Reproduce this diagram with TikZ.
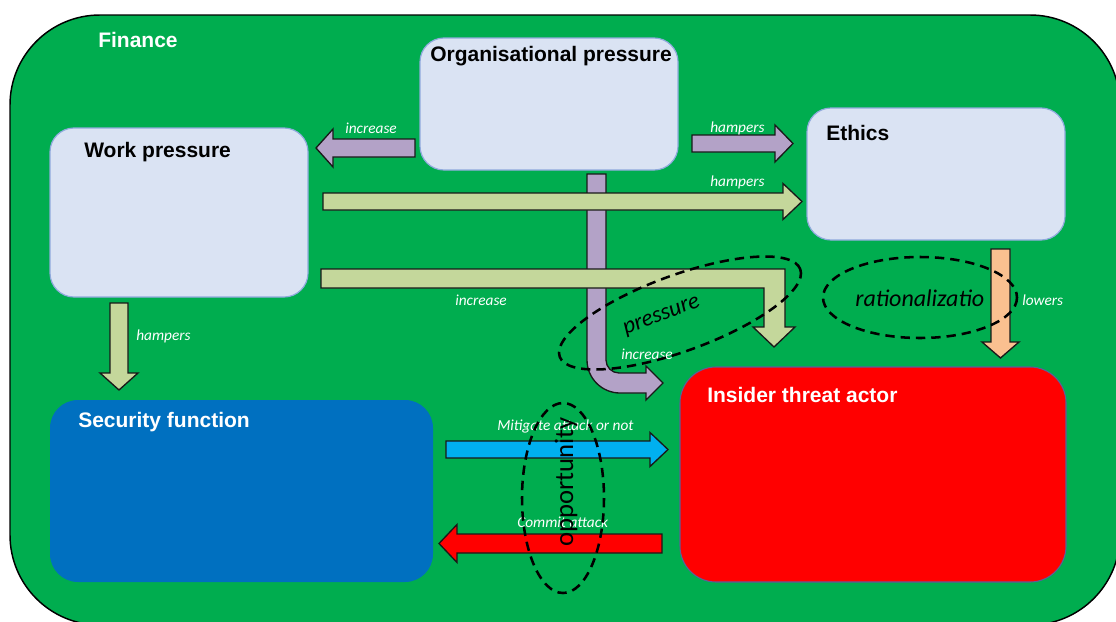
\documentclass[tikz,border=0pt]{standalone}
\usepackage{fontspec}
\setmainfont{Liberation Sans}
\newfontfamily\calfont{Carlito}
\definecolor{finGreen}{HTML}{00AD4F}
\definecolor{boxFill}{HTML}{DAE3F3}
\definecolor{boxLine}{HTML}{8FAADC}
\definecolor{purp}{HTML}{B3A2C7}
\definecolor{olive}{HTML}{C4D79B}
\definecolor{orng}{HTML}{FAC090}
\definecolor{skyb}{HTML}{00B0F0}
\definecolor{secBlue}{HTML}{0070C0}
\definecolor{insRed}{HTML}{FF0000}
\definecolor{insLine}{HTML}{5B5F9A}
% horizontal block arrow: tail x, head base x, tip x, centre y, shaft half, head half, style
\newcommand\HArr[7]{\draw[#7] (#1,{#4-#5}) -- (#2,{#4-#5}) -- (#2,{#4-#6}) -- (#3,#4) -- (#2,{#4+#6}) -- (#2,{#4+#5}) -- (#1,{#4+#5}) -- cycle;}
% vertical block arrow: tail y, head base y, tip y, centre x, shaft half, head half, style
\newcommand\VArr[7]{\draw[#7] ({#4-#5},#1) -- ({#4-#5},#2) -- ({#4-#6},#2) -- (#4,#3) -- ({#4+#6},#2) -- ({#4+#5},#2) -- ({#4+#5},#1) -- cycle;}
\begin{document}
\begin{tikzpicture}[x=0.75pt,y=-0.75pt,
  lbox/.style={draw=boxLine, fill=boxFill, line width=0.9pt, rounded corners=18pt, inner sep=0},
  ttl/.style={font=\bfseries\fontsize{15.75}{18}\selectfont, inner sep=0, anchor=base west},
  lab/.style={font=\calfont\itshape\fontsize{11.5}{13}\selectfont, text=white, inner sep=0, anchor=base west},
  blk/.style={draw=black!90, line width=1pt, line join=miter},
  ell/.style={draw=black, line width=1.9pt, dash pattern=on 7pt off 4.5pt},
  etxt/.style={font=\calfont, inner sep=0, text=black}]
\useasboundingbox (0,0) rectangle (1116,621);
% outer Finance region
\node[name=fin, draw=black, fill=finGreen, line width=1.1pt, rounded corners=67.5pt,
      minimum width=832.5pt, minimum height=457.5pt, inner sep=0] at (565,320) {};
\node[ttl, text=white] (finT) at (98,47) {Finance};
% boxes
\node[lbox, minimum width=193.5pt, minimum height=99pt] (org) at (549,104) {};
\node[lbox, minimum width=193.5pt, minimum height=126.75pt] (work) at (179,212.5) {};
\node[lbox, minimum width=193.5pt, minimum height=99pt] (eth) at (936,174) {};
\node[fill=secBlue, rounded corners=21pt, minimum width=287.25pt, minimum height=136.5pt, inner sep=0] (sec) at (241.5,491) {};
\node[draw=insLine, line width=0.8pt, fill=insRed, rounded corners=27pt, minimum width=289.5pt, minimum height=161.25pt, inner sep=0] (ins) at (873,474.5) {};
\node[ttl] (orgT) at (430,61) {Organisational pressure};
\node[ttl] (workT) at (84,157) {Work pressure};
\node[ttl] (ethT) at (826,140) {Ethics};
\node[ttl, text=white] (secT) at (78,427) {Security function};
\node[ttl, text=white] (insT) at (707,402) {Insider threat actor};
% purple bent arrow (organisational pressure -> insider)
\draw[blk, fill=purp] (587,174) -- (606,174) -- (606,360) arc[start angle=180, end angle=90, radius=13]
  -- (646,373) -- (646,366) -- (663,383) -- (646,400) -- (646,393) -- (620,393)
  arc[start angle=90, end angle=180, radius=33] -- cycle;
% purple straight arrows
\HArr{415}{333}{316}{148}{9}{19}{blk, fill=purp}
\HArr{692}{775}{793}{143.5}{8.5}{18.5}{blk, fill=purp}
% green arrows
\HArr{323}{783}{802}{201.5}{8.5}{18}{blk, fill=olive}
\draw[blk, fill=olive] (321,269) -- (785,269) -- (785,327) -- (795,327) -- (774,347) -- (753,327)
  -- (764,327) -- (764,288) -- (321,288) -- cycle;
\VArr{303}{373}{390}{119}{9}{19}{blk, fill=olive}
% orange arrow
\VArr{249}{342}{358}{1000.5}{9.5}{18.5}{blk, fill=orng}
% blue and red arrows
\HArr{446}{650}{668}{449.5}{8.5}{17}{blk, fill=skyb}
\HArr{662}{457}{439}{543.5}{9.5}{19}{blk, fill=insRed}
% arrow labels
\node[lab] (l1) at (345,133) {increase};
\node[lab] (l2) at (710,132) {hampers};
\node[lab] (l3) at (710,186) {hampers};
\node[lab] (l4) at (455,305) {increase};
\node[lab] (l5) at (136,340) {hampers};
\node[lab] (l6) at (621,359) {increase};
\node[lab] (l7) at (1022,305) {lowers};
\node[lab] (l8) at (497,430) {Mitigate attack or not};
\node[lab] (l9) at (517,527) {Commit attack};
% dashed ellipses
\draw[ell, rotate around={20:(680,313)}] (680,313) ellipse [x radius=128, y radius=38];
\draw[ell] (920,297.5) ellipse [x radius=97, y radius=40.5];
\draw[ell] (563,498) ellipse [x radius=41, y radius=95];
\node[etxt, rotate=21, font=\calfont\itshape\fontsize{17.5}{20}\selectfont] (pT) at (662,317) {pressure};
\node[etxt, anchor=base west, font=\calfont\itshape\fontsize{18}{21}\selectfont] (rT) at (855,306) {rationalizatio};
\node[etxt, rotate=90, font=\calfont\fontsize{20}{23}\selectfont] (oT) at (566,482) {opportunity};
\end{tikzpicture}
\end{document}
